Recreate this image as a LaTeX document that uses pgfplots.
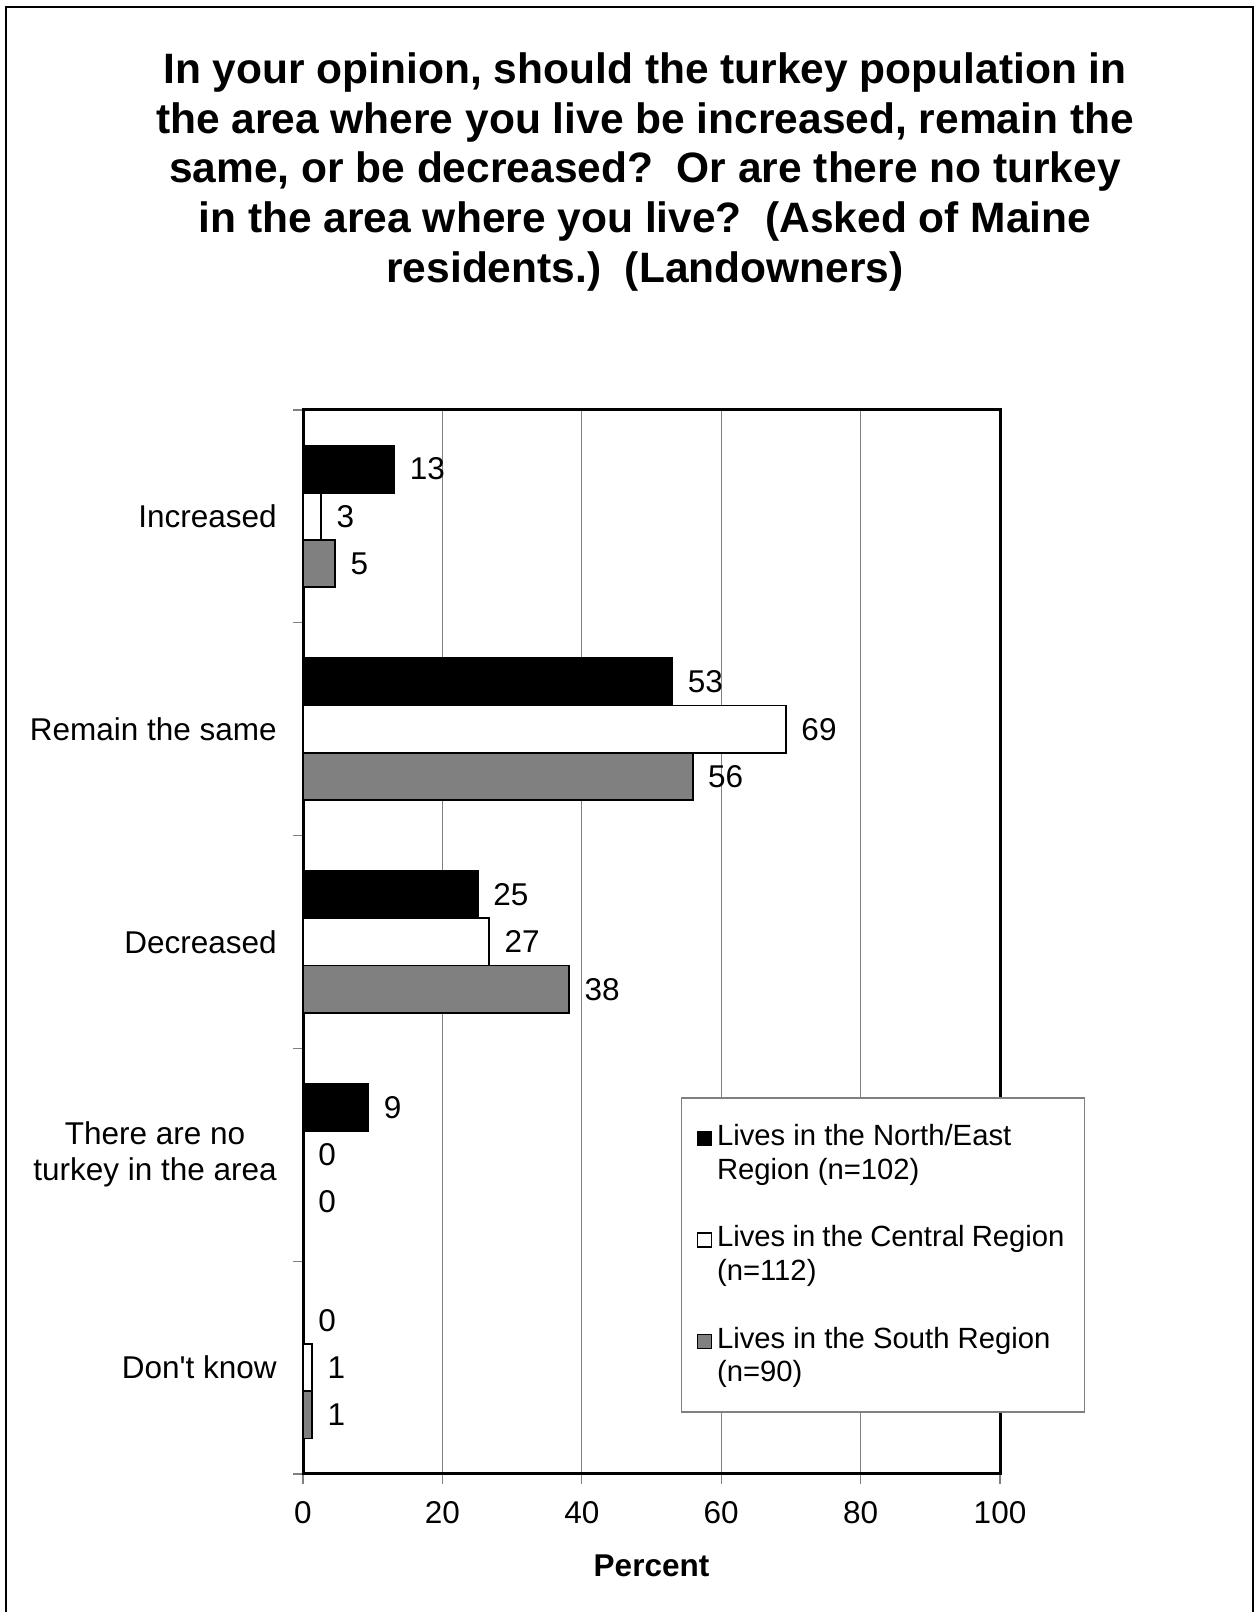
\documentclass[border=0pt]{standalone}
\usepackage{fontspec}
\setmainfont{Liberation Sans}[Ligatures=TeXOff]
\usepackage{pgfplots}
\pgfplotsset{compat=1.18}
\definecolor{bargray}{RGB}{128,128,128}
\definecolor{gridgray}{RGB}{128,128,128}
\newcommand{\tickfont}{\fontsize{12.6}{14.4}\selectfont}
\newcommand{\legfont}{\fontsize{11.7}{13.4}\selectfont}
\begin{document}
\begin{tikzpicture}[x=0.4pt,y=0.4pt]
\useasboundingbox (0,0) rectangle (1259,1612);
\draw[line width=1.0pt] (6,-20) -- (6,1605) -- (1253,1605) -- (1253,-20);
\node[align=center, font=\fontsize{17}{19.9}\selectfont\bfseries] at (645,1440)
 {In your opinion, should the turkey population in\\
  the area where you live be increased, remain the\\
  same, or be decreased?\ \ Or are there no turkey\\
  in the area where you live?\ \ (Asked of Maine\\
  residents.)\ \ (Landowners)};
\begin{axis}[
  at={(121.2pt,55.2pt)}, anchor=south west,
  scale only axis, width=278.8pt, height=425.6pt,
  xbar, bar width=18.9pt,
  xmin=0, xmax=100, ymin=-0.5, ymax=4.5,
  xtick={0,20,40,60,80,100},
  ytick={-0.5,0.5,1.5,2.5,3.5,4.5}, yticklabels={},
  extra y ticks={0,1,2,3,4},
  extra y tick labels={Don't know,There are no\\turkey in the area,Decreased,Remain the same,Increased},
  extra y tick style={major tick length=0pt, yticklabel style={align=center, font=\tickfont, xshift=-7pt}},
  tick pos=left, tick align=outside, major tick length=4pt,
  tick style={gridgray, line width=0.5pt},
  xmajorgrids, major grid style={gridgray, line width=0.5pt},
  axis line style={line width=1.2pt},
  ticklabel style={font=\tickfont},
  xticklabel style={yshift=-3.3pt},
  /pgf/number format/assume math mode=true,
  xlabel={\textbf{Percent}},
  xlabel style={font=\tickfont, yshift=-5.7pt},
  point meta=x,
  nodes near coords={\pgfmathprintnumber[fixed,precision=0]{\pgfplotspointmeta}},
  nodes near coords style={anchor=west, xshift=2.5pt, font=\tickfont, /pgf/number format/assume math mode=true},
  legend style={at={(0.542,0.354)}, anchor=north west, draw=gridgray, line width=0.6pt,
     font=\legfont, cells={anchor=base west}, row sep=13.2pt, inner xsep=6pt, inner ysep=8.5pt},
]
\addplot[fill=black, draw=black, line width=0.7pt, bar shift=18.9pt,
  legend image code/.code={\draw[fill=black,draw=black,line width=0.6pt] (0pt,13.4pt) rectangle (5.6pt,19pt);}]
  coordinates {(0,0) (9.4,1) (25.1,2) (53.0,3) (13.1,4)};
\addlegendentry{\parbox[b]{139pt}{Lives in the North/East\\Region (n=102)}}
\addplot[fill=white, draw=black, line width=0.7pt, bar shift=0pt,
  legend image code/.code={\draw[fill=white,draw=black,line width=0.6pt] (0pt,13.4pt) rectangle (5.6pt,19pt);}]
  coordinates {(1.3,0) (0,1) (26.7,2) (69.3,3) (2.6,4)};
\addlegendentry{\parbox[b]{139pt}{Lives in the Central Region\\(n=112)}}
\addplot[fill=bargray, draw=black, line width=0.7pt, bar shift=-18.9pt,
  legend image code/.code={\draw[fill=bargray,draw=black,line width=0.6pt] (0pt,13.4pt) rectangle (5.6pt,19pt);}]
  coordinates {(1.3,0) (0,1) (38.2,2) (55.9,3) (4.6,4)};
\addlegendentry{\parbox[b]{139pt}{Lives in the South Region\\(n=90)}}
\end{axis}
\end{tikzpicture}
\end{document}
